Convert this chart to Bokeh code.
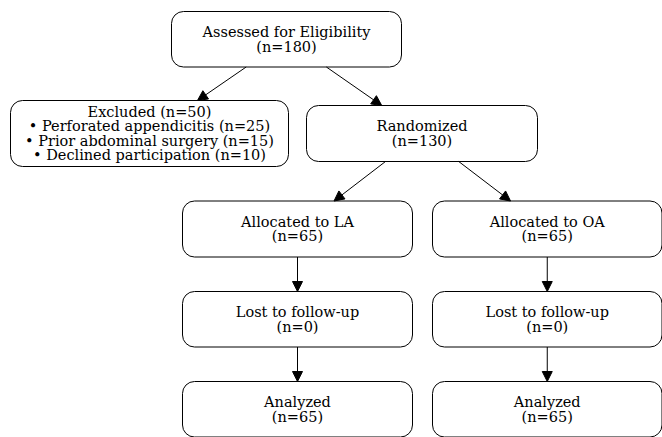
from bokeh.plotting import figure
from bokeh.models import Arrow, NormalHead, Range1d
from bokeh.embed import file_html
from bokeh.resources import INLINE
from bokeh.core.properties import value

# ---- data ----
node_titles = ["Assessed for Eligibility", "Excluded", "Randomized",
               "Allocated to LA", "Allocated to OA",
               "Lost to follow-up", "Lost to follow-up",
               "Analyzed", "Analyzed"]
node_counts = [180, 50, 130, 65, 65, 0, 0, 65, 65]
excluded_reasons = ["Perforated appendicitis", "Prior abdominal surgery", "Declined participation"]
excluded_counts = [25, 15, 10]
edges = [(0, 1), (0, 2), (2, 3), (2, 4), (3, 5), (4, 6), (5, 7), (6, 8)]

# ---- layout (screen px: left, right, top, bottom) ----
boxes = [
    (171, 401, 11, 66.5),
    (10, 288, 100, 166),
    (306, 537, 105, 161),
    (182, 412, 200.5, 256.5),
    (432, 661.5, 200.5, 256.5),
    (182, 412, 291, 346.5),
    (432, 661.5, 291, 346.5),
    (182, 412, 381, 436.5),
    (432, 661.5, 381, 436.5),
]
LINE_H = 14.5
FONT = value("DejaVu Serif")
W, H = 662, 437

p = figure(width=W, height=H, x_range=Range1d(0, W), y_range=Range1d(H, 0),
           x_axis_type=None, y_axis_type=None, toolbar_location=None,
           output_backend="svg", min_border=0, outline_line_color=None)
p.grid.visible = False

p.quad(left=[b[0] for b in boxes], right=[b[1] for b in boxes],
       top=[b[2] for b in boxes], bottom=[b[3] for b in boxes],
       fill_color="white", line_color="black", line_width=1, border_radius=12)

# text lines
tx, ty, tt = [], [], []
for i, (title, n) in enumerate(zip(node_titles, node_counts)):
    l, r, t, b = boxes[i]
    cx, cy = (l + r) / 2, (t + b) / 2
    if i == 1:
        lines = [f"{title} (n={n})"] + [f"• {s} (n={c})" for s, c in zip(excluded_reasons, excluded_counts)]
    else:
        lines = [title, f"(n={n})"]
    k = len(lines)
    for j, s in enumerate(lines):
        tx.append(cx)
        ty.append(cy + (j - (k - 1) / 2) * LINE_H)
        tt.append(s)
p.text(x=tx, y=ty, text=tt, text_font=FONT, text_font_size="14.5px",
       text_align="center", text_baseline="middle", text_color="black")


def clip(box, cx, cy, dx, dy):
    # point where ray from centre (cx,cy) in direction (dx,dy) leaves box
    l, r, t, b = box
    ts = []
    if dx > 0: ts.append((r - cx) / dx)
    if dx < 0: ts.append((l - cx) / dx)
    if dy > 0: ts.append((b - cy) / dy)
    if dy < 0: ts.append((t - cy) / dy)
    return cx + dx * min(ts), cy + dy * min(ts)


for a, b in edges:
    ba, bb = boxes[a], boxes[b]
    ax, ay = (ba[0] + ba[1]) / 2, (ba[2] + ba[3]) / 2
    bx, by = (bb[0] + bb[1]) / 2, (bb[2] + bb[3]) / 2
    dx, dy = bx - ax, by - ay
    x0, y0 = clip(ba, ax, ay, dx, dy)
    x1, y1 = clip(bb, bx, by, -dx, -dy)
    p.add_layout(Arrow(x_start=x0, y_start=y0, x_end=x1, y_end=y1,
                       line_color="black", line_width=1,
                       end=NormalHead(size=10, fill_color="black", line_color="black", line_width=1)))

open("out.html", "w").write(file_html(p, INLINE))
